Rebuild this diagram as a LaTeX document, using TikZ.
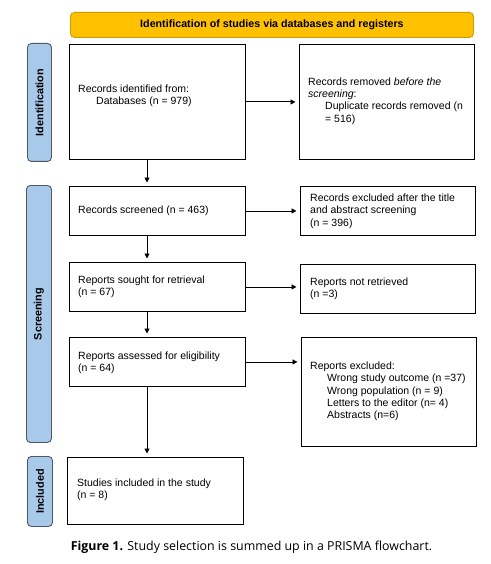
\documentclass[tikz,border=0pt]{standalone}
\usepackage{fontspec}
\setmainfont{Liberation Sans}
\newfontfamily\capfont{Open Sans}
\usetikzlibrary{arrows.meta}
\definecolor{sideblue}{HTML}{A9C9EB}
\definecolor{sideedge}{HTML}{4A5868}
\definecolor{banner}{HTML}{FFC000}
\definecolor{banneredge}{HTML}{C9A000}
\begin{document}
\begin{tikzpicture}[x=1pt,y=-1pt,
  box/.style={draw,line width=0.9pt,anchor=north west,inner sep=0pt},
  side/.style={draw=sideedge,fill=sideblue,line width=0.9pt,rounded corners=4pt,anchor=north west,inner sep=0pt},
  sidelabel/.style={rotate=90,font=\fontsize{10.8}{12}\selectfont\bfseries},
  txt/.style={anchor=west,align=left,inner sep=0pt,font=\fontsize{10.5}{12.3}\selectfont},
  arr/.style={-{Triangle[length=5pt,width=5pt]},line width=0.9pt,shorten >=3.5pt}]
\useasboundingbox (0,0) rectangle (490,564);
% banner
\node[draw=banneredge,fill=banner,line width=0.9pt,rounded corners=4pt,anchor=north west,inner sep=0pt,
  minimum width=403pt,minimum height=25pt,font=\fontsize{10.7}{12}\selectfont\bfseries] (title) at (70,12)
  {Identification of studies via databases and registers};
% side labels
\node[side,minimum width=24pt,minimum height=118pt] (s1) at (27,43) {};
\node[sidelabel] (s1t) at (s1.center) {Identification};
\node[side,minimum width=25pt,minimum height=257pt] (s2) at (26,185) {};
\node[sidelabel] (s2t) at (s2.center) {Screening};
\node[side,minimum width=25pt,minimum height=70pt] (s3) at (27,456) {};
\node[sidelabel] (s3t) at (s3.center) {Included};
% boxes
\node[box,minimum width=176pt,minimum height=115pt] (b1) at (69,44) {};
\node[box,minimum width=175pt,minimum height=115pt] (b2) at (299,44) {};
\node[box,minimum width=176pt,minimum height=49pt] (b3) at (69,186) {};
\node[box,minimum width=175pt,minimum height=49pt] (b4) at (300,186) {};
\node[box,minimum width=176pt,minimum height=49pt] (b5) at (69,262) {};
\node[box,minimum width=175pt,minimum height=49pt] (b6) at (300,264) {};
\node[box,minimum width=176pt,minimum height=49pt] (b7) at (69,337) {};
\node[box,minimum width=175pt,minimum height=109pt] (b8) at (301,337) {};
\node[box,minimum width=176pt,minimum height=67pt] (b9) at (67,457) {};
% texts
\node[txt] (t1) at (78,95.5) {Records identified from:\\\hspace*{18pt}Databases (n = 979)};
\node[txt] (t2) at (308,101) {Records removed \textit{before the}\\\textit{screening}:\\\hspace*{17pt}Duplicate records removed (n\\\hspace*{17pt}= 516)};
\node[txt] (t3) at (78,211) {Records screened (n = 463)};
\node[txt] (t4) at (310,211) {Records excluded after the title\\and abstract screening\\(n = 396)};
\node[txt] (t5) at (78,286.5) {Reports sought for retrieval\\(n = 67)};
\node[txt] (t6) at (310,289) {Reports not retrieved\\(n =3)};
\node[txt] (t7) at (78,362.5) {Reports assessed for eligibility\\(n = 64)};
\node[txt] (t8) at (310,391.5) {Reports excluded:\\\hspace*{17pt}Wrong study outcome (n =37)\\\hspace*{17pt}Wrong population (n = 9)\\\hspace*{17pt}Letters to the editor (n= 4)\\\hspace*{17pt}Abstracts (n=6)};
\node[txt] (t9) at (77,489.5) {Studies included in the study\\(n = 8)};
% arrows
\draw[arr] (b1.east) -- (b2.west |- b1.east);
\draw[arr] (b3.east) -- (b4.west |- b3.east);
\draw[arr] (b5.east) -- (b6.west |- b5.east);
\draw[arr] (b7.east) -- (b8.west |- b7.east);
\draw[arr] ([xshift=78pt]b1.south west) -- ([xshift=78pt]b3.north west);
\draw[arr] ([xshift=78pt]b3.south west) -- ([xshift=78pt]b5.north west);
\draw[arr] ([xshift=78pt]b5.south west) -- ([xshift=78pt]b7.north west);
\draw[arr] ([xshift=78pt]b7.south west) -- ([xshift=80pt]b9.north west);
% caption
\node[inner sep=0pt,font=\capfont\fontsize{12.4}{14}\selectfont] (cap) at (251.5,547) {\textbf{Figure 1.} Study selection is summed up in a PRISMA flowchart.};
\end{tikzpicture}
\end{document}
